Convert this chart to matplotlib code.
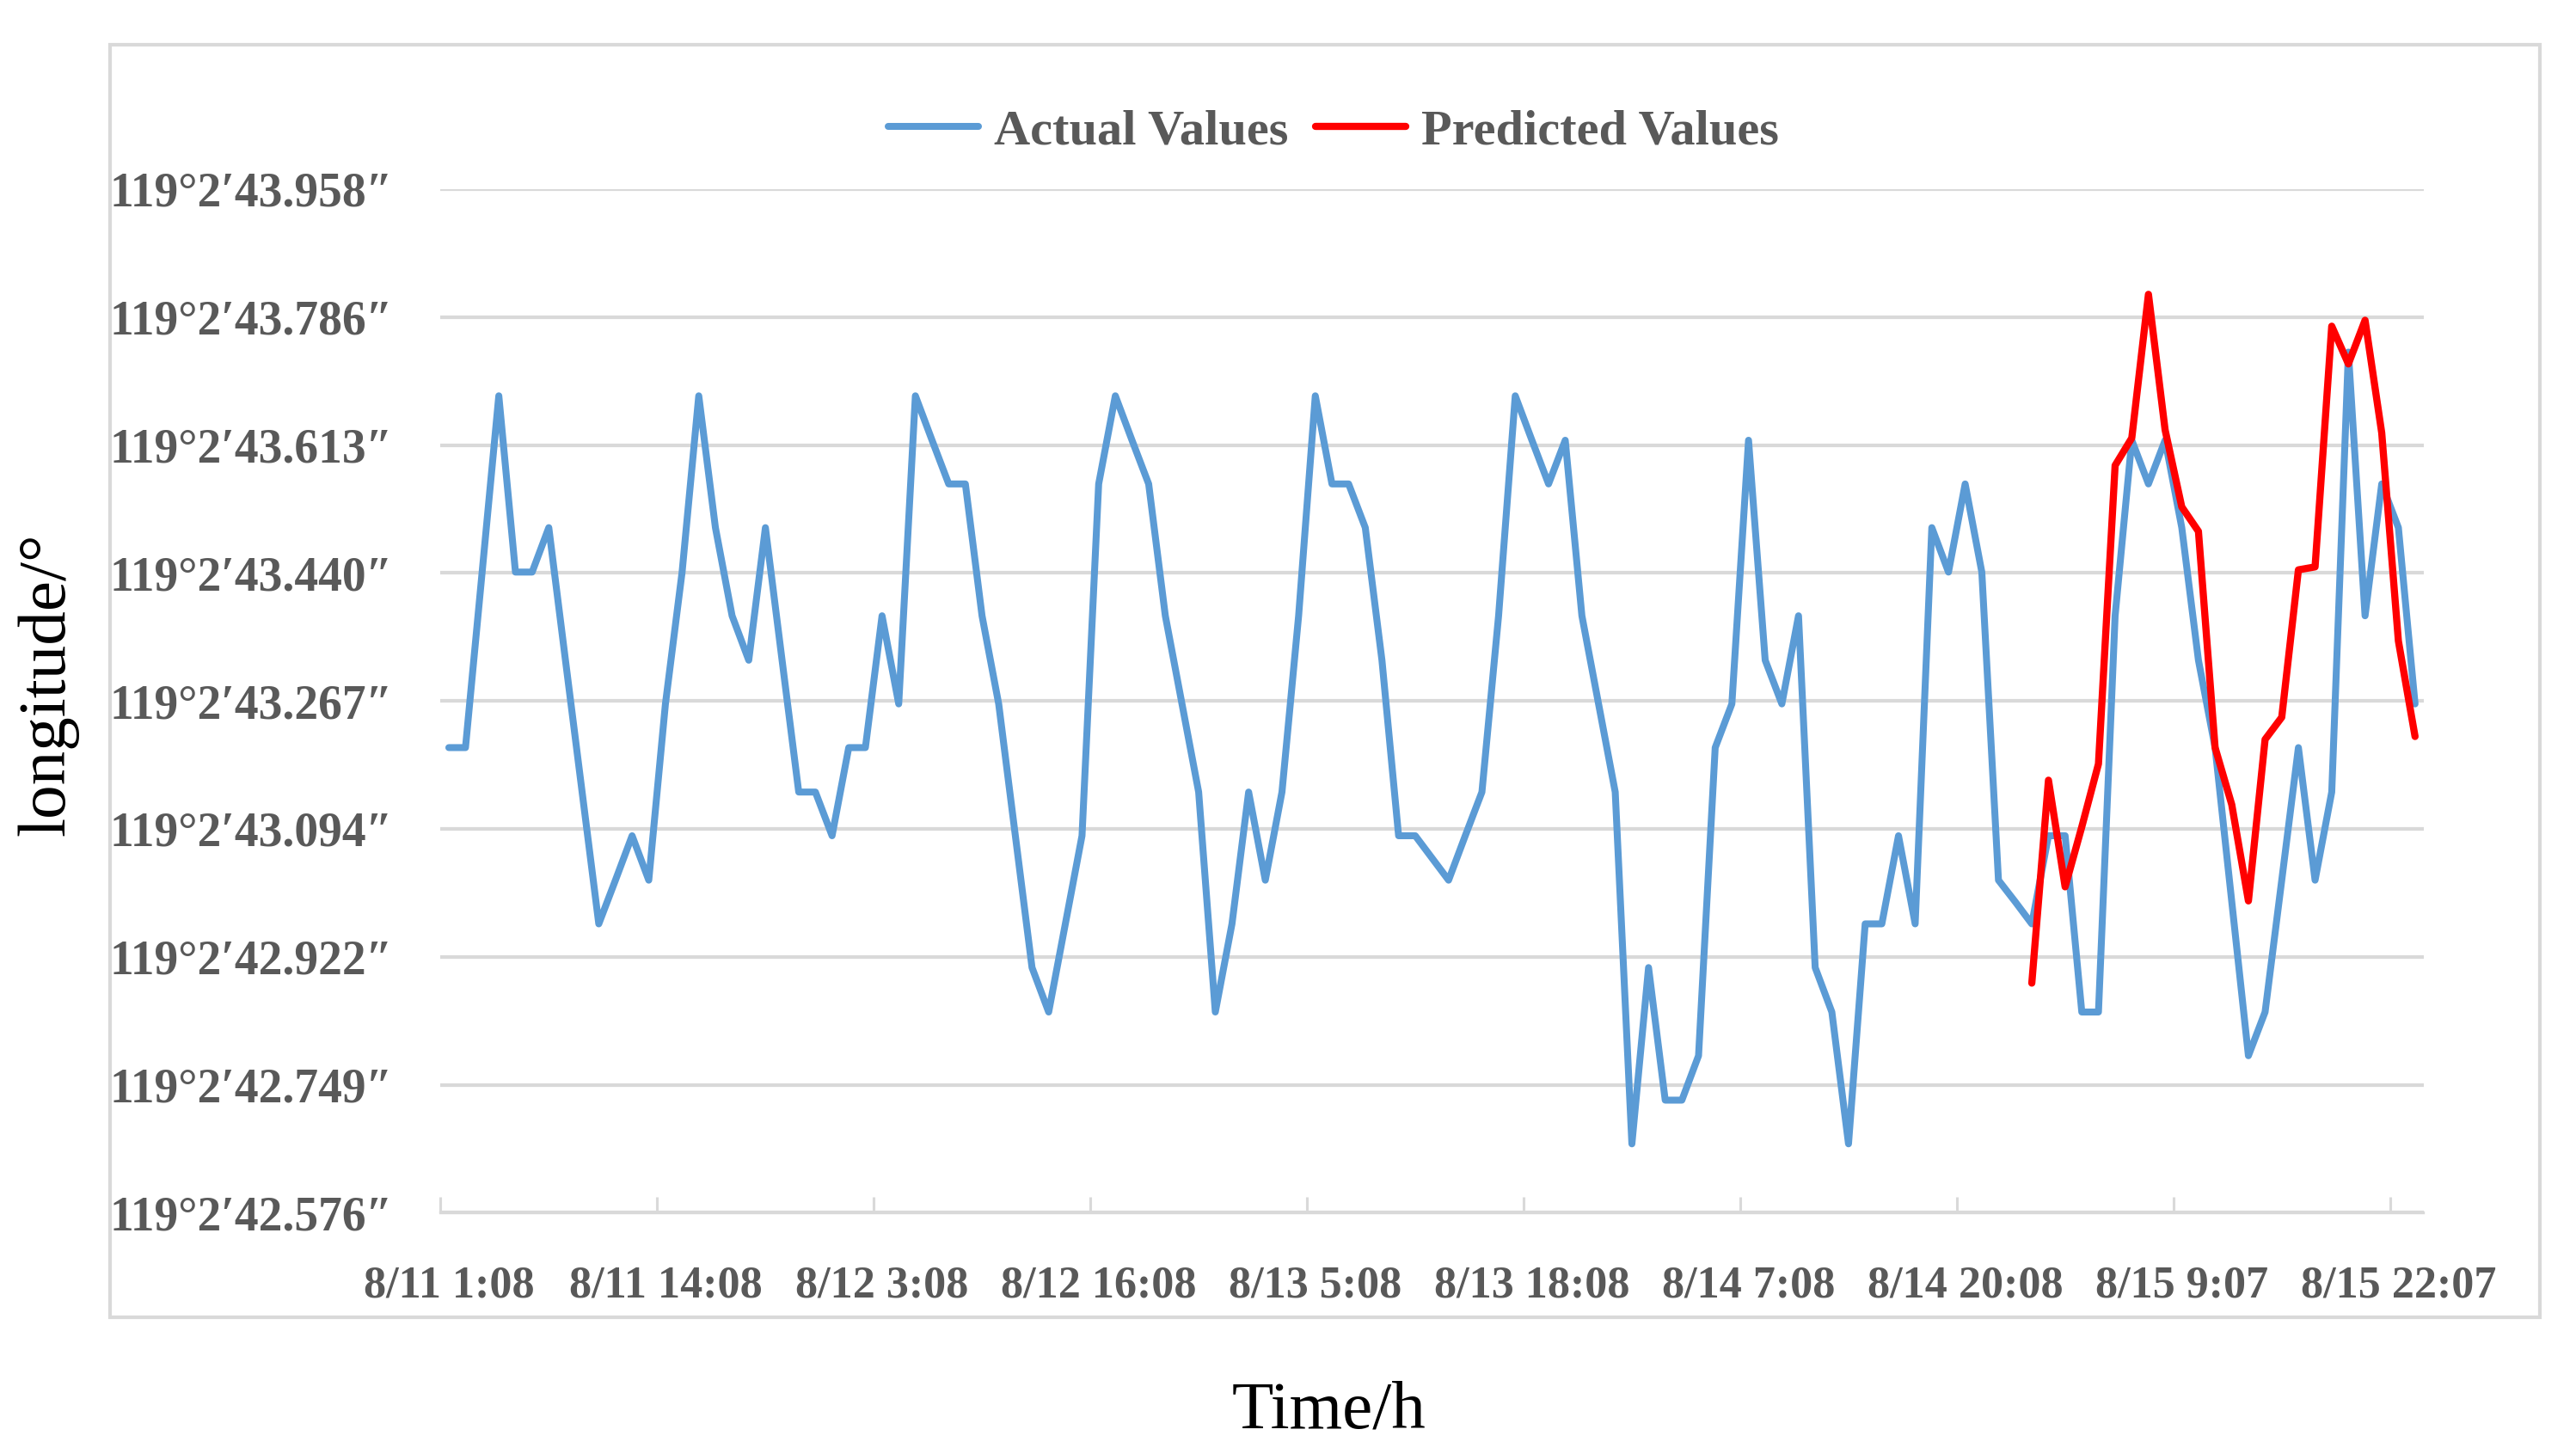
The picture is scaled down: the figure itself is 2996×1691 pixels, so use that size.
import matplotlib
matplotlib.use("Agg")
import matplotlib.pyplot as plt
from matplotlib.patches import Rectangle

# ---------------- data (seconds part of 119°2′xx.xxx″) ----------------
actual_values = [
    43.204, 43.204, 43.441, 43.679, 43.441, 43.441, 43.501, 43.322, 43.144, 42.966,
    43.025, 43.085, 43.025, 43.263, 43.441, 43.679, 43.501, 43.382, 43.322, 43.501,
    43.322, 43.144, 43.144, 43.085, 43.204, 43.204, 43.382, 43.263, 43.679, 43.619,
    43.560, 43.560, 43.382, 43.263, 43.085, 42.907, 42.847, 42.966, 43.085, 43.560,
    43.679, 43.619, 43.560, 43.382, 43.263, 43.144, 42.847, 42.966, 43.144, 43.025,
    43.144, 43.382, 43.679, 43.560, 43.560, 43.501, 43.322, 43.085, 43.085, 43.055,
    43.025, 43.085, 43.144, 43.382, 43.679, 43.619, 43.560, 43.619, 43.382, 43.263,
    43.144, 42.669, 42.907, 42.728, 42.728, 42.788, 43.204, 43.263, 43.619, 43.322,
    43.263, 43.382, 42.907, 42.847, 42.669, 42.966, 42.966, 43.085, 42.966, 43.501,
    43.441, 43.560, 43.441, 43.025, 42.996, 42.966, 43.085, 43.085, 42.847, 42.847,
    43.382, 43.619, 43.560, 43.619, 43.501, 43.322, 43.204, 42.996, 42.788, 42.847,
    43.025, 43.204, 43.025, 43.144, 43.738, 43.382, 43.560, 43.501, 43.263,
]
predicted_start = 95  # index of the first predicted point
predicted_values = [
    42.886, 43.160, 43.016, 43.097, 43.182, 43.585, 43.622, 43.816, 43.633, 43.529,
    43.496, 43.204, 43.127, 42.997, 43.215, 43.245, 43.444, 43.448, 43.773, 43.722,
    43.781, 43.629, 43.348, 43.219,
]
x_tick_labels = ["8/11 1:08", "8/11 14:08", "8/12 3:08", "8/12 16:08", "8/13 5:08",
                 "8/13 18:08", "8/14 7:08", "8/14 20:08", "8/15 9:07", "8/15 22:07"]
label_every = 13
y_ticks = [42.576, 42.74875, 42.9215, 43.09425, 43.267, 43.43975, 43.6125, 43.78525, 43.958]
y_tick_labels = ["119°2′42.576″", "119°2′42.749″", "119°2′42.922″", "119°2′43.094″",
                 "119°2′43.267″", "119°2′43.440″", "119°2′43.613″", "119°2′43.786″",
                 "119°2′43.958″"]

# ---------------- styling ----------------
SERIF = ["Liberation Serif", "DejaVu Serif"]
plt.rcParams["font.family"] = SERIF
GRID = "#D9D9D9"
TXT = "#595959"
BLUE = "#5B9BD5"
RED = "#FF0000"

W, H = 2996, 1691
fig = plt.figure(figsize=(W / 100, H / 100), dpi=100)

# outer chart border
fig.patches.append(Rectangle((128 / W, 1 - 1532 / H), (2954 - 128) / W, (1532 - 52) / H,
                             transform=fig.transFigure, fill=False, edgecolor=GRID,
                             linewidth=3.0, zorder=0))

left, right = 512.3 / W, 2818.5 / W
bottom, top = 1 - 1410.4 / H, 1 - 220 / H
ax = fig.add_axes([left, bottom, right - left, top - bottom])

n = len(actual_values)
xs = list(range(n))
xp = list(range(predicted_start, predicted_start + len(predicted_values)))

ax.plot(xs, actual_values, color=BLUE, linewidth=5.8, solid_joinstyle="round",
        solid_capstyle="round", label="Actual Values", zorder=3)
ax.plot(xp, predicted_values, color=RED, linewidth=6.0, solid_joinstyle="round",
        solid_capstyle="round", label="Predicted Values", zorder=4)

ax.set_xlim(-0.5, n - 0.5)
ax.set_ylim(y_ticks[0], y_ticks[-1])

# y axis
ax.set_yticks(y_ticks)
ax.set_yticklabels(y_tick_labels, fontsize=40, fontweight="bold", color=TXT)
ax.tick_params(axis="y", length=0, pad=40)
ax.yaxis.grid(True, color=GRID, linewidth=3.0)
ax.set_axisbelow(True)

# x axis: tick marks between categories, labels under categories
major = [i - 0.5 for i in range(0, n, label_every)]
minor = list(range(0, n, label_every))[:len(x_tick_labels)]
ax.set_xticks(major)
ax.set_xticklabels([""] * len(major))
ax.set_xticks(minor, minor=True)
ax.set_xticklabels(x_tick_labels, minor=True, fontsize=37.5, fontweight="bold", color=TXT)
ax.tick_params(axis="x", which="major", direction="in", length=13, width=2.2, color=GRID)
ax.tick_params(axis="x", which="minor", length=0, pad=44)

for s in ("left", "top", "right"):
    ax.spines[s].set_visible(False)
ax.spines["bottom"].set_color(GRID)
ax.spines["bottom"].set_linewidth(2.4)

# axis titles
fig.text(0.0185, 1 - 796 / H, "longitude/°", rotation=90, ha="center", va="center",
         fontsize=57, color="black")
fig.text(1546 / W, 1 - 1660 / H, "Time/h", ha="center", va="baseline",
         fontsize=57, color="black")

leg = fig.legend(loc="center", bbox_to_anchor=(1551 / W, 1 - 153 / H), ncol=2,
                 frameon=False, handlelength=1.8, handletextpad=0.3, columnspacing=0.55,
                 prop={"family": SERIF, "size": 42, "weight": "bold"})
for t in leg.get_texts():
    t.set_color(TXT)

fig.savefig("out.png", dpi=100)
